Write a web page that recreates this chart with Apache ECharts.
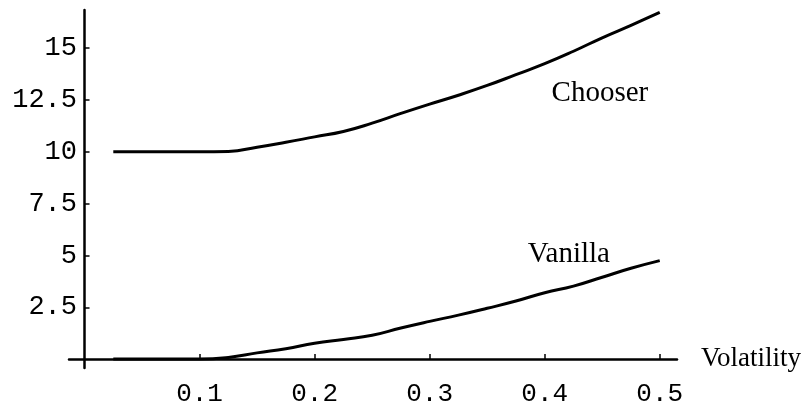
<!DOCTYPE html>
<html>
<head>
<meta charset="utf-8">
<script src="https://cdn.jsdelivr.net/npm/echarts@6/dist/echarts.min.js"></script>
<style>
  html, body { margin: 0; padding: 0; background: #fff; }
  #main { width: 806px; height: 403px; }
</style>
</head>
<body>
<div id="main"></div>
<script>
// volatility grid (x) and the two option values
var volatility = [0.025, 0.05, 0.075, 0.1, 0.125, 0.15, 0.175, 0.2, 0.225, 0.25, 0.275,
                  0.3, 0.325, 0.35, 0.375, 0.4, 0.425, 0.45, 0.475, 0.5];
var chooser = [10.0, 10.0, 10.0, 10.0, 10.02, 10.22, 10.46, 10.72, 10.98, 11.38, 11.85,
               12.3, 12.73, 13.2, 13.72, 14.25, 14.85, 15.5, 16.1, 16.72];
var vanilla = [0.0, 0.0, 0.0, 0.0, 0.08, 0.3, 0.5, 0.76, 0.95, 1.15, 1.5,
               1.82, 2.12, 2.45, 2.8, 3.2, 3.52, 3.95, 4.38, 4.75];
var xTicks = [0.1, 0.2, 0.3, 0.4, 0.5];
var yTicks = [2.5, 5, 7.5, 10, 12.5, 15];
// where the curve names sit (data coords)
var chooserLabelAt = [0.448, 12.84];
var vanillaLabelAt = [0.421, 5.07];

function pairs(xs, ys) {
  return xs.map(function (x, i) { return [x, ys[i]]; });
}

var chart = echarts.init(document.getElementById('main'));

var mono = 'Liberation Mono';
var serif = 'Liberation Serif';

function nameMark(text, coord) {
  return {
    symbol: 'circle',
    symbolSize: 0,
    silent: true,
    label: {
      show: true,
      position: 'inside',
      formatter: text,
      color: '#000',
      fontFamily: serif,
      fontSize: 29
    },
    data: [{ coord: coord }]
  };
}

var option = {
  animation: false,
  backgroundColor: '#fff',
  grid: { left: 69, top: 10, width: 608, height: 358, containLabel: false, outerBoundsMode: 'none' },
  xAxis: {
    type: 'value',
    min: -0.0135,
    max: 0.515,
    name: 'Volatility',
    nameLocation: 'end',
    nameGap: 24,
    nameTextStyle: { color: '#000', fontFamily: serif, fontSize: 27, verticalAlign: 'middle' },
    axisLine: { show: true, onZero: true, lineStyle: { color: '#000', width: 2.5 } },
    axisTick: { show: true, inside: true, length: 5, customValues: xTicks,
                lineStyle: { color: '#000', width: 1.5 } },
    axisLabel: {
      show: true, customValues: xTicks, margin: 13,
      color: '#000', fontFamily: mono, fontSize: 26,
      formatter: function (v) { return v.toFixed(1); }
    },
    splitLine: { show: false }
  },
  yAxis: {
    type: 'value',
    min: -0.43,
    max: 16.84,
    axisLine: { show: true, onZero: true, lineStyle: { color: '#000', width: 2.5 } },
    axisTick: { show: true, inside: true, length: 5, customValues: yTicks,
                lineStyle: { color: '#000', width: 1.5 } },
    axisLabel: {
      show: true, customValues: yTicks, margin: -8,
      color: '#000', fontFamily: mono, fontSize: 27,
      formatter: function (v) { return String(v); }
    },
    splitLine: { show: false }
  },
  series: [
    {
      name: 'Chooser',
      type: 'line',
      smooth: true,
      showSymbol: false,
      data: pairs(volatility, chooser),
      lineStyle: { color: '#000', width: 3 },
      markPoint: nameMark('Chooser', chooserLabelAt)
    },
    {
      name: 'Vanilla',
      type: 'line',
      smooth: true,
      showSymbol: false,
      data: pairs(volatility, vanilla),
      lineStyle: { color: '#000', width: 3 },
      markPoint: nameMark('Vanilla', vanillaLabelAt)
    }
  ]
};

chart.setOption(option);
</script>
</body>
</html>
